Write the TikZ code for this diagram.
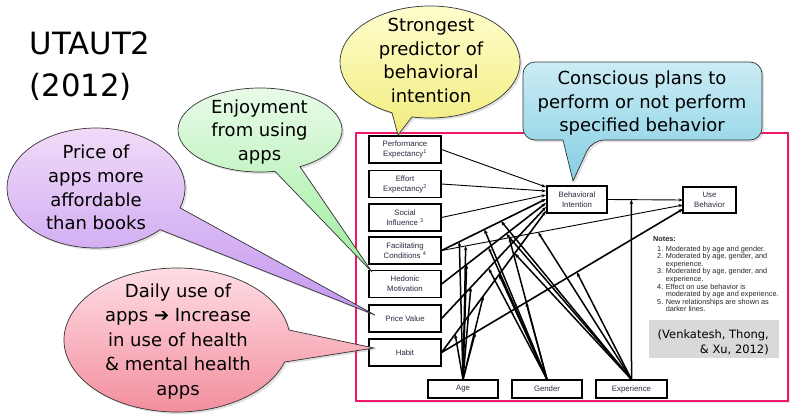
\documentclass[tikz,border=0pt]{standalone}
\usepackage{fontspec}
\setmainfont{DejaVu Sans}
\newfontfamily\arialf{Liberation Sans}
\usetikzlibrary{arrows.meta,calc,shadows}
\definecolor{framecol}{HTML}{F0186A}
\definecolor{boxtext}{HTML}{2A2A40}
\definecolor{ylwtop}{HTML}{FFFFD2}
\definecolor{ylwbot}{HTML}{F2EC7E}
\definecolor{grntop}{HTML}{EAFBEA}
\definecolor{grnbot}{HTML}{9EEE9E}
\definecolor{purtop}{HTML}{F2DDF8}
\definecolor{purbot}{HTML}{C396F0}
\definecolor{pnktop}{HTML}{FFE2E8}
\definecolor{pnkbot}{HTML}{F28A9A}
\definecolor{blutop}{HTML}{CBECF5}
\definecolor{blubot}{HTML}{84CEE2}
\definecolor{citegray}{HTML}{D9D9D9}
\begin{document}
\begin{tikzpicture}[x=1pt,y=-1pt,
  mbox/.style={draw=black,line width=1.1pt,fill=white,minimum width=72pt,minimum height=27pt,
    inner sep=0pt,align=center,text=boxtext,font=\arialf\fontsize{7.8}{10}\selectfont},
  modbox/.style={mbox,minimum width=70pt,minimum height=18pt},
  thinarr/.style={line width=0.9pt,-{Stealth[length=4.5pt,width=3.2pt]}},
  thickarr/.style={line width=1.6pt,-{Stealth[length=4.5pt,width=3.4pt]}},
  modarr/.style={line width=1.5pt,-{Stealth[length=4.5pt,width=3.4pt]}},
  callout/.style={draw=black!80,line width=0.7pt,drop shadow={opacity=0.25,shadow xshift=2pt,shadow yshift=-2pt}},
  ctext/.style={align=center,inner sep=0pt,font=\fontsize{18}{23.7}\selectfont}
]
\useasboundingbox (0,0) rectangle (794,415);

% title
\node[anchor=west,align=left,inner sep=0pt,font=\fontsize{30.7}{42}\selectfont] (title) at (29.5,66.5) {UTAUT2\\(2012)};

% frame
\draw[draw=framecol,line width=2.8pt,fill=white,drop shadow={opacity=0.2,shadow xshift=2pt,shadow yshift=-2pt}] (356,133) rectangle (788,401);

% boxes
\node[mbox] (PE) at (405,149.5) {Performance\\Expectancy\textsuperscript{1}};
\node[mbox] (EE) at (405,184) {Effort\\Expectancy\textsuperscript{2}};
\node[mbox] (SI) at (405,217.5) {Social\\Influence \textsuperscript{3}};
\node[mbox] (FC) at (405,250.5) {Facilitating\\Conditions \textsuperscript{4}};
\node[mbox] (HM) at (405,284) {Hedonic\\Motivation};
\node[mbox] (PV) at (405,318.5) {Price Value};
\node[mbox] (HA) at (405,352.5) {Habit};
\node[mbox,minimum width=60pt] (BI) at (577,199.5) {Behavioral\\Intention};
\node[mbox,minimum width=53pt,minimum height=26pt] (UB) at (709.5,200) {Use\\Behavior};
\node[modbox] (Age) at (463,389) {Age};
\node[modbox] (Gen) at (547,389) {Gender};
\node[modbox,minimum width=71pt] (Exp) at (631.5,389) {Experience};

% end points on BI and UB
\coordinate (bi1) at (546,187);
\coordinate (bi2) at (546,191);
\coordinate (bi3) at (546,195);
\coordinate (bi4) at (546,199);
\coordinate (bi5) at (546,203);
\coordinate (bi6) at (546,207);
\coordinate (bi7) at (546,211);
\coordinate (ub1) at (683,200);
\coordinate (ub2) at (683,205);
\coordinate (ub3) at (683,209);

% main paths
\draw[thinarr] (PE.east) -- (bi1);
\draw[thinarr] (EE.east) -- (bi2);
\draw[thinarr] (SI.east) -- (bi3);
\draw[thickarr] (FC.east) -- (bi4);
\draw[thickarr] (HM.east) -- (bi5);
\draw[thickarr] (PV.east) -- (bi6);
\draw[thickarr] (HA.east) -- (bi7);
\draw[thinarr] (FC.east) -- (ub2);
\draw[thickarr] (HA.east) -- (ub3);
\draw[thinarr] (BI.east) -- (ub1);

% moderators
\foreach \s/\e/\t in {FC.east/bi4/0.17, FC.east/ub2/0.10, HM.east/bi5/0.24, PV.east/bi6/0.28,
                      HA.east/bi7/0.13, HA.east/bi7/0.40, HA.east/ub3/0.14}
  \draw[modarr] (Age.north) -- ($(\s)!\t!(\e)$);
\foreach \s/\e/\t in {FC.east/bi4/0.41, HM.east/bi5/0.45, PV.east/bi6/0.45,
                      HA.east/bi7/0.55, HA.east/ub3/0.35, FC.east/ub2/0.28}
  \draw[modarr] (Gen.north) -- ($(\s)!\t!(\e)$);
\foreach \s/\e/\t in {FC.east/bi4/0.57, HM.east/bi5/0.62, HA.east/bi7/0.70,
                      FC.east/ub2/0.40, HA.east/ub3/0.56, BI.east/ub1/0.316}
  \draw[modarr] (Exp.north) -- ($(\s)!\t!(\e)$);

% notes
\node[anchor=north west,inner sep=0pt,text=black!85,font=\arialf\fontsize{7.3}{7.6}\selectfont] (notes) at (653,236)
{\begin{tabular}{@{\hspace{4pt}}l@{\hspace{2.5pt}}l@{}}
\multicolumn{2}{@{}l}{\bfseries Notes:}\\[2pt]
1. & Moderated by age and gender.\\
2. & Moderated by age, gender, and\\
   & experience.\\
3. & Moderated by age, gender, and\\
   & experience.\\
4. & Effect on use behavior is\\
   & moderated by age and experience.\\
5. & New relationships are shown as\\
   & darker lines.
\end{tabular}};

% citation
\fill[citegray] (649,320) rectangle (779,358);
\node[anchor=east,align=right,inner sep=0pt,font=\fontsize{11.5}{15}\selectfont] (cite) at (769,342) {(Venkatesh, Thong,\\\& Xu, 2012)};

% callouts
\path[callout,top color=ylwtop,bottom color=ylwbot]
  (430,62) ++(115:90 and 56) arc[start angle=115,end angle=461.5,x radius=90,y radius=56]
  -- (398,135) -- cycle;
\node[ctext] (c1) at (431,60.5) {Strongest\\predictor of\\behavioral\\intention};

\path[callout,top color=grntop,bottom color=grnbot]
  (260,130) ++(79.5:82 and 42) arc[start angle=79.5,end angle=420.8,x radius=82,y radius=42]
  -- (372,272) -- cycle;
\node[ctext] (c2) at (259.5,131.8) {Enjoyment\\from using\\apps};

\path[callout,top color=purtop,bottom color=purbot]
  (96,188) ++(44:89 and 60) arc[start angle=44,end angle=379.3,x radius=89,y radius=60]
  -- (375,315) -- cycle;
\node[ctext] (c3) at (96,187.6) {Price of\\apps more\\affordable\\than books};

\path[callout,top color=pnktop,bottom color=pnkbot]
  (177,340) ++(17.8:113 and 72) arc[start angle=17.8,end angle=352,x radius=113,y radius=72]
  -- (374,348) -- cycle;
\node[ctext,font=\fontsize{18}{24.5}\selectfont] (c4) at (178,341.3) {Daily use of\\apps ➔ Increase\\in use of health\\\& mental health\\apps};

\path[callout,top color=blutop,bottom color=blubot]
  (563,140) [rounded corners=12pt] -- (523,140) -- (523,62) -- (762,62) -- (762,140) -- (592,140)
  [sharp corners] -- (573,181) -- cycle;
\node[ctext] (c5) at (642,103.3) {Conscious plans to\\perform or not perform\\specified behavior};
\end{tikzpicture}
\end{document}
